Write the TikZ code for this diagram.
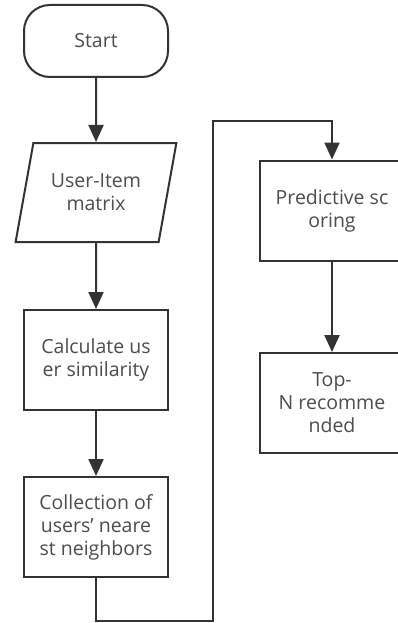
\documentclass[tikz,border=0pt]{standalone}
\usepackage{fontspec}
\setmainfont{Open Sans}
\usetikzlibrary{shapes.geometric,arrows.meta}
\definecolor{edge}{HTML}{333333}
\definecolor{ink}{HTML}{4D4D4D}

\begin{document}
\begin{tikzpicture}[x=1pt,y=-1pt,line width=2pt,>={Triangle[length=17pt,width=15pt]},
    every node/.style={text=ink,font=\fontsize{19.5}{23}\selectfont,align=center,inner sep=0pt},
    stepbox/.style={draw=edge,fill=white,minimum width=144pt,minimum height=100pt},
    termbox/.style={stepbox,minimum height=72pt,rounded corners=26pt},
    iobox/.style={draw=edge,fill=white,trapezium,trapezium left angle=71,trapezium right angle=109,
      trapezium stretches=true,minimum width=161pt,minimum height=99pt}]
  \useasboundingbox (0,0) rectangle (398,623);
  \clip (0,0) rectangle (398,623);

  \node[termbox] (start) at (96,41) {Start};
  \node[iobox] (mat) at (96,192.5) {User-Item\\matrix};
  \node[stepbox] (sim) at (96,360) {Calculate us\\er similarity};
  \node[stepbox] (nbr) at (96,527) {Collection of\\users' neare\\st neighbors};
  \node[stepbox] (score) at (332,210.5) {Predictive sc\\oring};
  \node[stepbox] (topn) at (332,403) {Top-\\N recomme\\nded};
  \coordinate (turn) at (213,121);

  \draw[edge,->] (start) -- (mat);
  \draw[edge,->] (mat) -- (sim);
  \draw[edge,->] (sim) -- (nbr);
  \draw[edge,->] (nbr.south) -- ++(0,43) -| (turn) -| (score.north);
  \draw[edge,->] (score) -- (topn);
\end{tikzpicture}
\end{document}
